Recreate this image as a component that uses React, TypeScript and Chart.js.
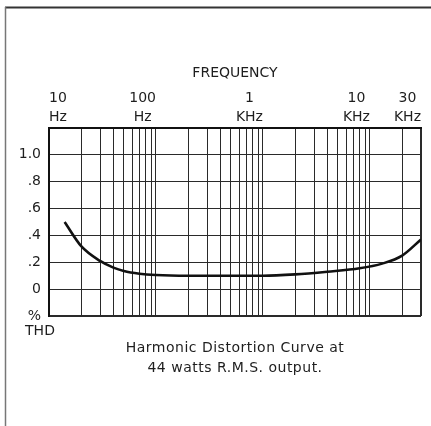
import React, { useEffect, useRef } from 'react';
import { Chart, registerables } from 'chart.js';

Chart.register(...registerables);

// Curve data (frequency in Hz, % THD)
const freqs = [14, 20, 30, 40, 50, 70, 100, 200, 500, 1000, 2000, 4000, 8000, 13000, 20000, 30000];
const thd = [0.5, 0.32, 0.21, 0.16, 0.135, 0.115, 0.105, 0.1, 0.1, 0.1, 0.11, 0.13, 0.155, 0.19, 0.25, 0.37];

// Grid / tick positions on the log frequency axis
const gridFreqs = [
  10, 20, 30, 40, 50, 60, 70, 80, 90,
  100, 200, 300, 400, 500, 600, 700, 800, 900,
  1000, 2000, 3000, 4000, 5000, 6000, 7000, 8000, 9000,
  10000, 20000, 30000,
];
const freqTickValues = [10, 100, 1000, 10000, 30000];
const freqTickLabels = [['10', 'Hz'], ['100', 'Hz'], ['1', 'KHz'], ['10', 'KHz'], ['30', 'KHz']];

const yTickValues = [-0.2, 0, 0.2, 0.4, 0.6, 0.8, 1.0, 1.2];
const yTickLabels = ['%', '0', '.2', '.4', '.6', '.8', '1.0', ''];

const xTitle = 'FREQUENCY';
const unitLabel = 'THD';
const captionLines = ['Harmonic Distortion Curve at', '44 watts R.M.S. output.'];

const FONT = '"DejaVu Sans", sans-serif';
const INK = '#1e1e1e';

export default function App() {
  const ref = useRef<HTMLCanvasElement | null>(null);

  useEffect(() => {
    document.body.style.margin = '0';
    const canvas = ref.current;
    if (!canvas) return;

    const decor = {
      id: 'decor',
      beforeDraw(chart: any) {
        const c = chart.ctx;
        c.save();
        c.lineWidth = 2;
        c.strokeStyle = '#333';
        c.beginPath();
        c.moveTo(5, 7.5);
        c.lineTo(431, 7.5);
        c.stroke();
        c.lineWidth = 1.5;
        c.strokeStyle = '#777';
        c.beginPath();
        c.moveTo(5.5, 7);
        c.lineTo(5.5, 426);
        c.stroke();
        c.restore();
      },
      afterDraw(chart: any) {
        const c = chart.ctx;
        const a = chart.chartArea;
        const xs = chart.scales.x;
        c.save();
        c.fillStyle = INK;
        c.font = `14px ${FONT}`;
        c.textBaseline = 'middle';
        c.textAlign = 'center';

        // frequency labels: block right-aligned to its grid line, or left-aligned if it would leave the plot
        const lh = 19;
        freqTickValues.forEach((v, i) => {
          const lines = freqTickLabels[i];
          const px = xs.getPixelForValue(v);
          const w = Math.max(...lines.map((t) => c.measureText(t).width));
          const left = px - w < a.left ? px : px - w;
          const cx = left + w / 2;
          lines.forEach((t, j) => {
            c.fillText(t, cx, a.top - 11 - (lines.length - 1 - j) * lh);
          });
        });

        c.fillText(unitLabel, a.left - 9, a.bottom + 15);
        const cx = (a.left + a.right) / 2;
        (c as any).letterSpacing = '0.5px';
        captionLines.forEach((t, i) => c.fillText(t, cx, a.bottom + 32 + i * 20));
        c.restore();
      },
    };

    const chart = new Chart(canvas, {
      type: 'line',
      data: {
        datasets: [
          {
            data: freqs.map((f, i) => ({ x: f, y: thd[i] })),
            borderColor: '#111',
            borderWidth: 2.6,
            pointRadius: 0,
            fill: false,
            cubicInterpolationMode: 'monotone',
          },
        ],
      },
      options: {
        responsive: false,
        animation: false,
        layout: { padding: { left: 0, right: 10, top: 0, bottom: 110 } },
        plugins: { legend: { display: false }, tooltip: { enabled: false }, title: { display: false } },
        scales: {
          x: {
            type: 'logarithmic',
            position: 'top',
            min: 10,
            max: 30000,
            afterBuildTicks: (scale: any) => {
              scale.ticks = gridFreqs.map((v) => ({ value: v }));
            },
            afterFit: (scale: any) => {
              scale.height = 128;
              scale.paddingLeft = 0;
              scale.paddingRight = 0;
            },
            ticks: { display: false, autoSkip: false },
            grid: {
              drawTicks: false,
              color: '#2a2a2a',
              lineWidth: (ctx: any) => (ctx.tick && ctx.tick.value === 30000 ? 2 : 1),
            },
            border: { display: true, color: '#111', width: 2 },
            title: {
              display: true,
              text: xTitle,
              color: INK,
              font: { family: FONT, size: 14, lineHeight: 1.36 },
              padding: { top: 64, bottom: 0 },
            },
          },
          y: {
            type: 'linear',
            min: -0.2,
            max: 1.2,
            afterBuildTicks: (scale: any) => {
              scale.ticks = yTickValues.map((v) => ({ value: v }));
            },
            afterFit: (scale: any) => {
              scale.width = 49;
              scale.paddingTop = 0;
              scale.paddingBottom = 0;
            },
            ticks: {
              padding: 8,
              color: INK,
              font: { family: FONT, size: 14 },
              callback: (value: any) => {
                const idx = yTickValues.findIndex((v) => Math.abs(v - Number(value)) < 1e-6);
                return idx >= 0 ? yTickLabels[idx] : '';
              },
            },
            grid: {
              drawTicks: false,
              color: '#2a2a2a',
              lineWidth: (ctx: any) => (ctx.tick && Math.abs(ctx.tick.value + 0.2) < 1e-6 ? 2 : 1),
            },
            border: { display: true, color: '#111', width: 2 },
          },
        },
      },
      plugins: [decor],
    });

    return () => chart.destroy();
  }, []);

  return (
    <div style={{ width: 431, height: 426, background: '#fff' }}>
      <canvas ref={ref} width={431} height={426} style={{ display: 'block' }} />
    </div>
  );
}
